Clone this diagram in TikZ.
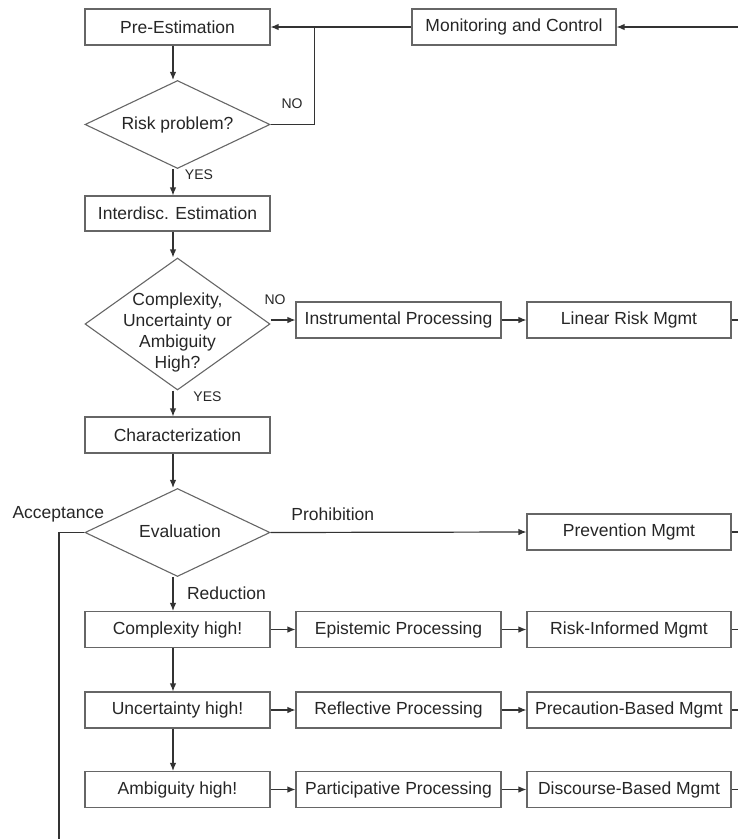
\documentclass[tikz,border=0pt]{standalone}
\usepackage{fontspec}
\setmainfont{Liberation Sans}
\usetikzlibrary{shapes.geometric,arrows.meta}
\begin{document}
\begin{tikzpicture}[x=1pt,y=-1pt,
  every node/.style={text=black!85},
  txt/.style={font=\fontsize{17.5}{21}\selectfont},
  small/.style={font=\fontsize{14}{16}\selectfont},
  box/.style={txt,draw=black!60,line width=1.1pt,rectangle,inner sep=0pt,
    minimum width=185pt,minimum height=36pt},
  pbox/.style={box,minimum width=205pt},
  mbox/.style={box,minimum width=204pt},
  dbox/.style={draw=black!60,line width=1.1pt,diamond,inner sep=0pt,
    minimum width=185pt},
  conn/.style={draw=black!80,line width=1.2pt},
  arr/.style={conn,-{Latex[length=8pt,width=6.5pt]}}]
\useasboundingbox (0,0) rectangle (738,839);

% main column
\node[box] (pre) at (177.5,27) {Pre-Estimation};
\node[mbox] (mon) at (514,27) {Monitoring and Control};
\node[dbox,minimum height=88pt] (risk) at (177.5,124.5) {};
\node[txt] (riskt) at (177.5,124.5) {Risk problem?};
\node[box,minimum height=35pt] (inter) at (177.5,213.5) {Interdisc. Estimation};
\node[dbox,minimum height=132pt] (cu) at (177.5,324) {};
\node[txt,align=center] (cut) at (177.5,332) {Complexity,\\Uncertainty or\\Ambiguity\\High?};
\node[box] (char) at (177.5,435) {Characterization};
\node[dbox,minimum height=88pt] (ev) at (177.5,532.5) {};
\node[txt] (evt) at (180,531.5) {Evaluation};
\node[box] (ch) at (177.5,629.5) {Complexity high!};
\node[box] (uh) at (177.5,710) {Uncertainty high!};
\node[box] (ah) at (177.5,789.5) {Ambiguity high!};

% processing column
\node[pbox] (ip) at (398.5,320) {Instrumental Processing};
\node[pbox] (ep) at (398.5,629.5) {Epistemic Processing};
\node[pbox] (rp) at (398.5,710) {Reflective Processing};
\node[pbox] (pp) at (398.5,789.5) {Participative Processing};

% management column
\node[mbox] (lin) at (629,320) {Linear Risk Mgmt};
\node[mbox] (prev) at (629,532) {Prevention Mgmt};
\node[mbox] (ri) at (629,629.5) {Risk-Informed Mgmt};
\node[mbox] (pb) at (629,710) {Precaution-Based Mgmt};
\node[mbox] (db) at (629,789.5) {Discourse-Based Mgmt};

% helper points
\coordinate (sp) at (173,0);
\coordinate (fb) at (314.5,27);
\coordinate (re) at (738,27);
\coordinate (acc) at (59,839);

% vertical flow
\draw[arr] (pre.south -| sp) -- (risk.north -| sp);
\draw[arr] (risk.south -| sp) -- (inter.north -| sp);
\draw[arr] (inter.south -| sp) -- (cu.north -| sp);
\draw[arr] (cu.south -| sp) -- (char.north -| sp);
\draw[arr] (char.south -| sp) -- (ev.north -| sp);
\draw[arr] (ev.south -| sp) -- (ch.north -| sp);
\draw[arr] (ch.south -| sp) -- (uh.north -| sp);
\draw[arr] (uh.south -| sp) -- (ah.north -| sp);

% feedback loop
\draw[arr] (re) -- (mon.east);
\draw[conn] (mon.west) -- (fb);
\draw[arr] (fb) -- (pre.east);
\draw[conn] (risk.east) -| (fb);

% branches
\draw[arr] (cu.east |- ip.west) -- (ip.west);
\draw[arr] (ip.east) -- (lin.west);
\draw[arr] (ev.east) -- (prev.west);
\draw[arr] (ch.east) -- (ep.west);
\draw[arr] (ep.east) -- (ri.west);
\draw[arr] (uh.east) -- (rp.west);
\draw[arr] (rp.east) -- (pb.west);
\draw[arr] (ah.east) -- (pp.west);
\draw[arr] (pp.east) -- (db.west);
\draw[conn] (ev.west) -| (acc);

% outgoing stubs
\draw[conn] (lin.east) -- (lin.east -| re);
\draw[conn] (prev.east) -- (prev.east -| re);
\draw[conn] (ri.east) -- (ri.east -| re);
\draw[conn] (pb.east) -- (pb.east -| re);
\draw[conn] (db.east) -- (db.east -| re);

% branch labels
\node[small] (no1) at (292,104) {NO};
\node[small] (yes1) at (199,175) {YES};
\node[small] (no2) at (275,299.5) {NO};
\node[small] (yes2) at (207.5,396.5) {YES};
\node[txt] (lacc) at (58.3,514) {Acceptance};
\node[txt] (lpro) at (332.8,514.5) {Prohibition};
\node[txt] (lred) at (226.5,593) {Reduction};
\end{tikzpicture}
\end{document}
